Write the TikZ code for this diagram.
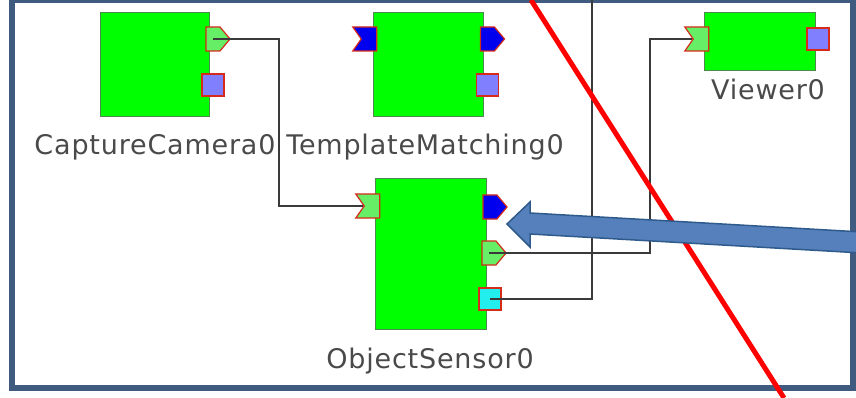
\documentclass[tikz,border=0pt]{standalone}
\usepackage{fontspec}
\newfontfamily\compfont[LetterSpace=3]{DejaVu Sans}
\usetikzlibrary{positioning,shapes.symbols}
\definecolor{frameblue}{HTML}{3F5B80}
\definecolor{compgreen}{HTML}{00FF00}
\definecolor{compedge}{HTML}{4E8A4E}
\definecolor{portgreen}{HTML}{66EE66}
\definecolor{portblue}{HTML}{0000EE}
\definecolor{portpurple}{HTML}{8080FF}
\definecolor{portcyan}{HTML}{22EEEE}
\definecolor{portedge}{HTML}{D62A1A}
\definecolor{wire}{HTML}{3A3A3A}
\definecolor{labelgray}{HTML}{4A4A4A}
\definecolor{callout}{HTML}{5580BC}
\definecolor{calloutedge}{HTML}{2F5A8C}
\definecolor{strike}{HTML}{FF0000}
\tikzset{
  comp/.style={draw=compedge, fill=compgreen, line width=0.8pt, inner sep=0pt},
  port/.style={draw=portedge, line width=1.2pt, inner sep=0pt,
    minimum width=24pt, minimum height=24pt},
  inport/.style={port, signal, signal to=nowhere, signal from=west, signal pointer angle=110},
  outport/.style={port, signal, signal to=east, signal pointer angle=100},
  sqport/.style={port, rectangle, minimum width=22pt, minimum height=22pt},
  compname/.style={font=\compfont\fontsize{27}{27}\selectfont, text=labelgray, anchor=base},
  wireline/.style={draw=wire, line width=1.3pt},
  calloutarrow/.style={fill=callout, draw=calloutedge, line width=1.5pt, line join=miter}
}
\begin{document}
\begin{tikzpicture}[x=1pt,y=-1pt]
  \useasboundingbox (0,0) rectangle (856,398);
  \clip (0,0) rectangle (856,398);
  \draw[frameblue, line width=6pt] (11.5,0) rectangle (853,388);

  % components
  \node[comp, minimum width=109pt, minimum height=104pt] (cam) at (154.5,64) {};
  \node[comp, minimum width=110pt, minimum height=104pt] (tm) at (428,64) {};
  \node[comp, minimum width=111pt, minimum height=58pt] (view) at (759.5,41) {};
  \node[comp, minimum width=111pt, minimum height=151pt] (sens) at (430.5,253.5) {};

  \node[compname] (camname) at (155,155) {CaptureCamera0};
  \node[compname] (tmname) at (425,155) {TemplateMatching0};
  \node[compname] (viewname) at (768,100) {Viewer0};
  \node[compname] (sensname) at (430,368) {ObjectSensor0};

  % ports
  \node[outport, fill=portgreen] (camout) at (213,39) {};
  \node[sqport, fill=portpurple] (camsvc) at (213,85) {};
  \node[inport, fill=portblue] (tmin) at (369,39) {};
  \node[outport, fill=portblue] (tmout) at (487.5,39) {};
  \node[sqport, fill=portpurple] (tmsvc) at (487.5,85) {};
  \node[inport, fill=portgreen] (viewin) at (701,39) {};
  \node[sqport, fill=portpurple] (viewsvc) at (818,39) {};
  \node[inport, fill=portgreen] (sensin) at (372,206) {};
  \node[outport, fill=portblue] (sensdata) at (490,207) {};
  \node[outport, fill=portgreen] (sensout) at (489,253) {};
  \node[sqport, fill=portcyan] (senssvc) at (490,299) {};

  % connectors
  \coordinate (topend) at (592,0);
  \draw[wireline] (camout.center) -- (279,39) |- (sensin.west);
  \draw[wireline] (sensout.center) -- (650,253) |- (viewin.west);
  \draw[wireline] (senssvc.center) -| (topend);

  \draw[strike, line width=5pt] (531,0) -- (784,398);
  \fill[calloutarrow] (507,224) -- (530,202) -- (530,213) -- (862,232)
    -- (862,253) -- (530,234) -- (530,247) -- cycle;
\end{tikzpicture}
\end{document}
